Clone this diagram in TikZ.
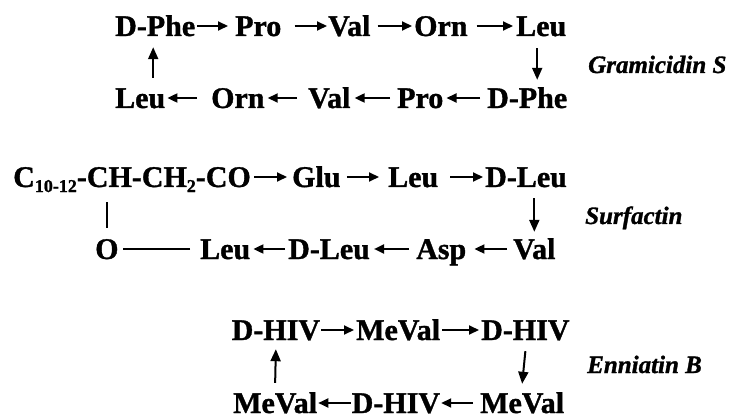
\documentclass[tikz,border=0pt]{standalone}
\usepackage{fontspec}
\setmainfont{Liberation Serif}[BoldFeatures={FakeBold=1.2},BoldItalicFeatures={FakeBold=1.2}]
\usetikzlibrary{arrows.meta,calc}
\newcommand\lowidx[1]{\raisebox{-5pt}{\fontsize{18}{18}\selectfont #1}}
\tikzset{
  residue/.style={anchor=base west, inner sep=0pt, text height=20pt, text depth=0pt,
                  font=\fontsize{30}{30}\selectfont\bfseries},
  cpdname/.style={anchor=base west, inner sep=0pt, font=\fontsize{25}{25}\selectfont\bfseries\itshape},
  arr/.style={line width=2pt, -{Triangle[length=10pt,width=9pt]}},
  varr/.style={line width=2pt, -{Triangle[length=12pt,width=10pt]}},
  bond/.style={line width=1.6pt}
}
\begin{document}
\begin{tikzpicture}[x=1pt,y=1pt]
\useasboundingbox (0,0) rectangle (730,418);

% ---------------- Gramicidin S ----------------
\node[residue] (g1a) at (115,382) {D-Phe};
\node[residue] (g1b) at (235,382) {Pro};
\node[residue] (g1c) at (328,382) {Val};
\node[residue] (g1d) at (414,382) {Orn};
\node[residue] (g1e) at (516,382) {Leu};
\node[residue] (g2a) at (115,310) {Leu};
\node[residue] (g2b) at (211,310) {Orn};
\node[residue] (g2c) at (308,310) {Val};
\node[residue] (g2d) at (397,310) {Pro};
\node[residue] (g2e) at (487,310) {D-Phe};
\node[cpdname] (gname) at (588,345) {Gramicidin S};

\draw[arr] ([xshift=2pt]g1a.east) -- ([xshift=-7pt]g1b.west);
\draw[arr] ([xshift=13pt]g1b.east) -- ([xshift=-1pt]g1c.west);
\draw[arr] ([xshift=7pt]g1c.east) -- ([xshift=-2pt]g1d.west);
\draw[arr] ([xshift=9pt]g1d.east) -- ([xshift=-3pt]g1e.west);
\draw[varr] ($(g1e.south)+(-4,-12)$) -- ($(g1e.south |- g2e.north)+(-4,8)$);
\draw[arr] ([xshift=-7pt]g2e.west) -- ([xshift=3pt]g2d.east);
\draw[arr] ([xshift=-7pt]g2d.west) -- ([xshift=4pt]g2c.east);
\draw[arr] ([xshift=-11pt]g2c.west) -- ([xshift=3pt]g2b.east);
\draw[arr] ([xshift=-14pt]g2b.west) -- ([xshift=2pt]g2a.east);
\draw[varr] ($(g1a.south |- g2a.north)+(-2,10)$) -- ($(g1a.south)+(-2,-11)$);

% ---------------- Surfactin ----------------
\node[residue] (s1a) at (13,231) {C\lowidx{10-12}-CH-CH\lowidx{2}-CO};
\node[residue] (s1b) at (292,231) {Glu};
\node[residue] (s1c) at (388,231) {Leu};
\node[residue] (s1d) at (485,231) {D-Leu};
\node[residue] (s2a) at (95,159) {O};
\node[residue] (s2b) at (200,159) {Leu};
\node[residue] (s2c) at (288,159) {D-Leu};
\node[residue] (s2d) at (416,159) {Asp};
\node[residue] (s2e) at (513,159) {Val};
\node[cpdname] (sname) at (585,194) {Surfactin};

\draw[arr] ([xshift=3pt]s1a.east) -- ([xshift=-5pt]s1b.west);
\draw[arr] ([xshift=6pt]s1b.east) -- ([xshift=-9pt]s1c.west);
\draw[arr] ([xshift=12pt]s1c.east) -- ([xshift=-2pt]s1d.west);
\draw[varr] ($(s2e.north |- s1d.south)+(0,-11)$) -- ($(s2e.north)+(0,7)$);
\draw[arr] ([xshift=-6pt]s2e.west) -- ([xshift=8pt]s2d.east);
\draw[arr] ([xshift=-7pt]s2d.west) -- ([xshift=4pt]s2c.east);
\draw[arr] ([xshift=-3pt]s2c.west) -- ([xshift=3pt]s2b.east);
\draw[bond] ([xshift=-10pt]s2b.west) -- ([xshift=4pt]s2a.east);
\draw[line width=2pt] ($(s2a.north)+(0,11)$) -- ($(s2a.north |- s1a.south)+(0,-15)$);

% ---------------- Enniatin B ----------------
\node[residue] (e1a) at (231.5,78) {D-HIV};
\node[residue] (e1b) at (356,78) {MeVal};
\node[residue] (e1c) at (481,78) {D-HIV};
\node[residue] (e2a) at (233,5) {MeVal};
\node[residue] (e2b) at (351.5,5) {D-HIV};
\node[residue] (e2c) at (480,5) {MeVal};
\node[cpdname] (ename) at (587,45) {Enniatin B};

\draw[arr] ([xshift=1pt]e1a.east) -- ([xshift=-2pt]e1b.west);
\draw[arr] ([xshift=2pt]e1b.east) -- ([xshift=-2pt]e1c.west);
\draw[varr] ([yshift=-11pt]e1c.south) -- ([yshift=9pt]e2c.north);
\draw[arr] ([xshift=-7pt]e2c.west) -- ([xshift=1pt]e2b.east);
\draw[arr] ([xshift=-1pt]e2b.west) -- ([xshift=1pt]e2a.east);
\draw[varr] ([yshift=10pt]e2a.north) -- ([yshift=-9pt]e1a.south);
\end{tikzpicture}
\end{document}
